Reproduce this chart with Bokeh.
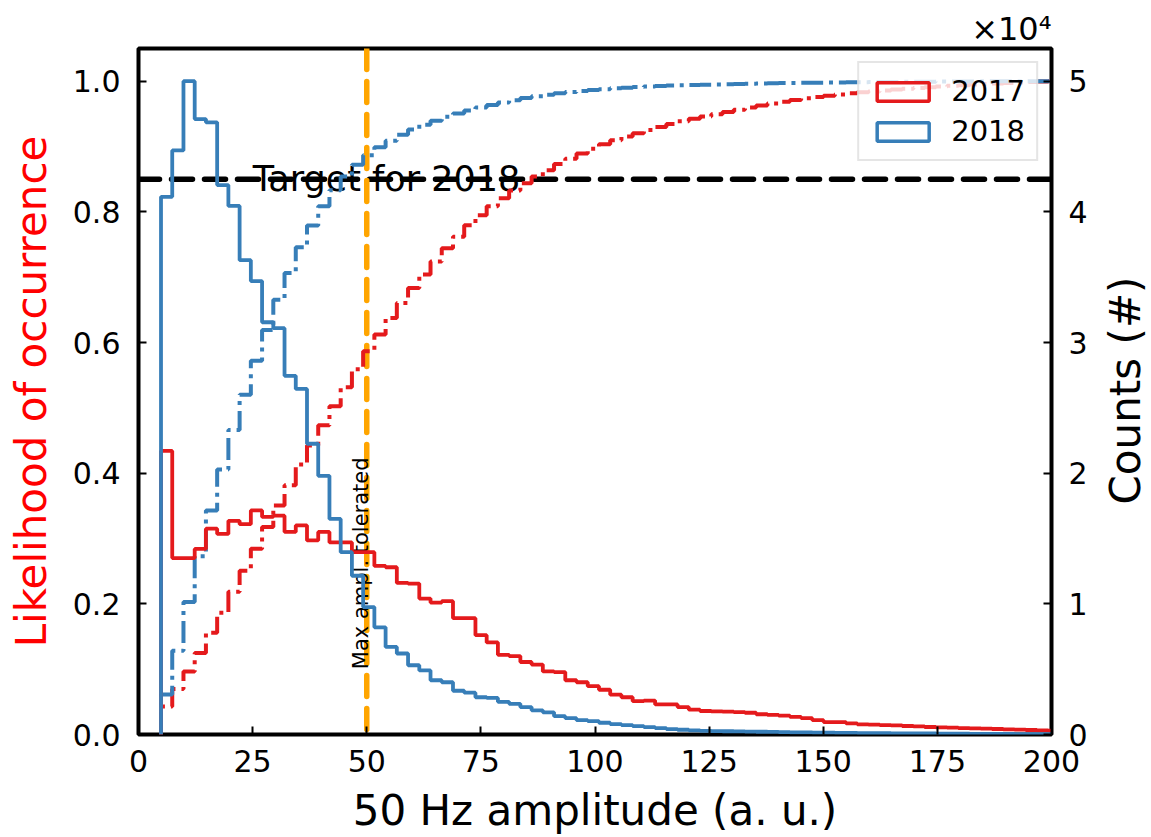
import numpy as np
from bokeh.plotting import figure
from bokeh.models import (Range1d, LinearAxis, FixedTicker, PrintfTickFormatter,
                          CustomJSTickFormatter, Span, Label, Legend, LegendItem, Title)
from bokeh.embed import file_html
from bokeh.resources import INLINE

# ---------------- data ----------------
years = ["2017", "2018"]
bin_start = 4.93      # first histogram edge (a. u.)
bin_width = 2.46      # histogram bin width (a. u.)

counts_2017 = [21700, 13500, 13500, 14200, 15750, 15350, 16350, 16100, 17150, 16650,
               16750, 15500, 16000, 14850, 15500, 14700, 14700, 13950, 13950, 12900,
               12800, 11600, 11550, 10400, 10100, 10200, 8900, 8900, 7600, 7050,
               6100, 6000, 5550, 5350, 4825, 4775, 4150, 4000, 3700, 3425,
               3050, 2850, 2550, 2600, 2300, 2300, 2100, 1900, 1800, 1765,
               1745, 1720, 1665, 1550, 1500, 1450, 1350, 1250, 1100, 950,
               950, 850, 775, 750, 725, 700, 650, 625, 575, 550,
               520, 495, 470, 445, 420, 395, 370, 345, 315, 300]

counts_2018 = [41150, 44700, 50000, 47100, 46850, 42050, 40450, 36300, 34700, 31550,
               31100, 27450, 26450, 22250, 19800, 16500, 13950, 12150, 9750, 8200,
               6700, 6200, 5300, 4900, 4150, 4000, 3350, 3200, 2850, 2800,
               2500, 2350, 2100, 1850, 1700, 1400, 1250, 1100, 1025, 900,
               800, 720, 645, 570, 490, 415, 365, 310, 285, 260,
               250, 235, 225, 210, 200, 185, 170, 160, 150, 140,
               130, 120, 110, 100, 95, 90, 85, 80, 75, 70,
               65, 60, 55, 50, 45, 40, 35, 30, 25, 20]

x_ticks = [0, 25, 50, 75, 100, 125, 150, 175, 200]
left_ticks = [0.0, 0.2, 0.4, 0.6, 0.8, 1.0]
right_ticks = [0, 10000, 20000, 30000, 40000, 50000]
target_value = 0.85
target_text = "Target for 2018"
max_ampl = 50
max_ampl_text = "Max ampl. tolerated"
max_ampl_text_y = 0.1

RED = "#e41a1c"
BLUE = "#377eb8"
FONT = "DejaVu Sans"

# ---------------- helpers ----------------
n_bins = len(counts_2017)
edges = bin_start + bin_width * np.arange(n_bins + 1)


def step_path(e, vals):
    xs = np.repeat(e, 2)
    ys = np.concatenate([[0.0], np.repeat(np.asarray(vals, dtype=float), 2), [0.0]])
    return xs, ys


c17 = np.asarray(counts_2017, dtype=float)
c18 = np.asarray(counts_2018, dtype=float)
cum17 = np.cumsum(c17) / c17.sum()
cum18 = np.cumsum(c18) / c18.sum()

# ---------------- figure ----------------
W, H = 1151, 837
BL, BR, BT, BB = 138, 100, 48, 101
p = figure(width=W, height=H, output_backend="svg", toolbar_location=None,
           x_range=Range1d(0, 200), y_range=Range1d(0, 1.05),
           min_border_left=BL, min_border_right=BR, min_border_top=BT,
           min_border_bottom=BB)
p.background_fill_color = "white"
p.border_fill_color = "white"
p.xgrid.visible = False
p.ygrid.visible = False
p.outline_line_color = "black"
p.outline_line_width = 4
p.outline_line_alpha = 1.0

p.extra_y_ranges = {"counts": Range1d(0, 52500)}
raxis = LinearAxis(y_range_name="counts",
                   ticker=FixedTicker(ticks=right_ticks),
                   formatter=CustomJSTickFormatter(code="return (tick/10000).toFixed(0);"))
p.add_layout(raxis, "right")

xaxis = p.below[0]
laxis = p.left[0]
xaxis.ticker = FixedTicker(ticks=x_ticks)
laxis.ticker = FixedTicker(ticks=left_ticks)
laxis.formatter = PrintfTickFormatter(format="%.1f")

for ax in [xaxis, laxis, raxis]:
    ax.axis_line_color = None
    ax.major_tick_in = 8
    ax.major_tick_out = 0
    ax.minor_tick_in = 0
    ax.minor_tick_out = 0
    ax.major_tick_line_width = 2
    ax.major_tick_line_color = "black"
    ax.major_label_text_font = FONT
    ax.major_label_text_font_size = "30px"
    ax.major_label_text_color = "black"
    ax.axis_label_text_font = FONT
    ax.axis_label_text_font_size = "42px"
    ax.axis_label_text_font_style = "normal"
    ax.axis_label_text_color = "black"

xaxis.major_label_standoff = 15
laxis.major_label_standoff = 18
raxis.major_label_standoff = 17

xaxis.axis_label = "50 Hz amplitude (a. u.)"
xaxis.axis_label_standoff = 11

laxis.axis_label = "Likelihood of occurrence"
laxis.axis_label_text_color = "#ff0000"
laxis.axis_label_standoff = 14

# right-axis title: a label in the right side panel, reading bottom to top
p.add_layout(Label(x=35, y=(H - BT - BB) / 2, x_units="screen", y_units="screen",
                   text="Counts (#)", text_font=FONT, text_font_size="42px",
                   text_color="black", angle=np.pi / 2, text_align="center",
                   text_baseline="alphabetic"), "right")

# ---------------- reference lines & texts (under the data) ----------------
target_span = Span(location=target_value, dimension="width", line_color="black",
                   line_width=5.5, line_dash="21 12", line_cap="round", level="underlay")
max_span = Span(location=max_ampl, dimension="height", line_color="#ffa500",
                line_width=5.5, line_dash="21 12", line_cap="round", level="underlay")
p.add_layout(target_span)
p.add_layout(max_span)

p.add_layout(Label(x=25, y=target_value, text=target_text, text_font=FONT,
                   text_font_size="35px", text_color="black",
                   text_baseline="alphabetic", text_align="left", level="underlay"))
p.add_layout(Label(x=max_ampl, y=max_ampl_text_y, text=max_ampl_text, text_font=FONT,
                   text_font_size="21px", text_color="black", angle=np.pi / 2,
                   x_offset=-6, text_baseline="alphabetic", text_align="left",
                   level="underlay"))

# ---------------- cumulative (left axis) ----------------
xs, ys = step_path(edges, cum17)
p.line(xs, ys, line_color=RED, line_width=4, line_dash="22 6 4 6")
xs, ys = step_path(edges, cum18)
p.line(xs, ys, line_color=BLUE, line_width=4, line_dash="22 6 4 6")

# ---------------- histograms (right axis) ----------------
xs, ys = step_path(edges, c17)
p.line(xs, ys, line_color=RED, line_width=3.8, y_range_name="counts")
xs, ys = step_path(edges, c18)
p.line(xs, ys, line_color=BLUE, line_width=3.8, y_range_name="counts")

# ---------------- legend (patch-style entries) ----------------
r17 = p.quad(left=[np.nan], right=[np.nan], top=[np.nan], bottom=[np.nan],
             fill_color="white", fill_alpha=0, line_color=RED, line_width=3.5)
r18 = p.quad(left=[np.nan], right=[np.nan], top=[np.nan], bottom=[np.nan],
             fill_color="white", fill_alpha=0, line_color=BLUE, line_width=3.5)
legend = Legend(items=[LegendItem(label=years[0], renderers=[r17]),
                       LegendItem(label=years[1], renderers=[r18])],
                location="top_right", margin=13, padding=11, spacing=6,
                glyph_width=65, glyph_height=23, label_standoff=16,
                label_text_font=FONT, label_text_font_size="29px",
                label_text_color="black",
                border_line_color="#cccccc", border_line_width=2,
                background_fill_color="white", background_fill_alpha=0.8)
p.add_layout(legend)

# ---------------- offset text of the right axis ----------------
p.add_layout(Title(text="\u00d710\u2074", align="right", offset=0, standoff=1,
                   text_font=FONT, text_font_size="32px", text_font_style="normal",
                   text_color="black"), "above")

open("out.html", "w").write(file_html(p, INLINE))
